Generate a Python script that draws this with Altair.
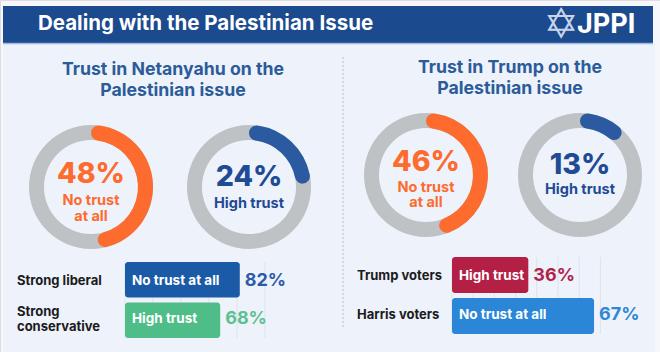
import altair as alt
import pandas as pd

# ---------------- data ----------------
donut_values = [48, 24, 46, 13]
donut_labels = ["No trust\nat all", "High trust", "No trust\nat all", "High trust"]

left_groups = ["Strong liberal", "Strong\nconservative"]
left_values = [82, 68]
left_bar_labels = ["No trust at all", "High trust"]
left_grid = [0, 20, 40, 60, 80, 100]

right_groups = ["Trump voters", "Harris voters"]
right_values = [36, 67]
right_bar_labels = ["High trust", "No trust at all"]
right_grid = [0, 10, 20, 30, 40, 50, 60, 70]

title = "Dealing with the Palestinian Issue"
left_title = "Trust in Netanyahu on the\nPalestinian issue"
right_title = "Trust in Trump on the\nPalestinian issue"

FONT = "Inter"
ORANGE = "#fd6c2e"
BLUE_ARC = "#2c5aa0"
BLUE_TXT = "#1f4a94"
GRAY = "#bec2c5"
HEADER = "#1c4a8e"
SEC = "#2b5c99"

one = pd.DataFrame({"a": [0]})
layers = []

# background card + header
layers.append(alt.Chart(one).mark_rect(color="#eef2fb").encode(
    x=alt.value(3), x2=alt.value(655), y=alt.value(43), y2=alt.value(352)))
layers.append(alt.Chart(one).mark_rect(color=HEADER).encode(
    x=alt.value(3), x2=alt.value(653), y=alt.value(6), y2=alt.value(43)))
layers.append(alt.Chart(one).mark_rule(color="#9fb7dc", strokeWidth=1.5).encode(
    x=alt.value(3), x2=alt.value(653), y=alt.value(43.5)))
layers.append(alt.Chart(one).mark_text(text=title, font=FONT, fontWeight="bold", fontSize=20.5,
                                       color="white", align="left", baseline="middle").encode(
    x=alt.value(38), y=alt.value(24)))
layers.append(alt.Chart(one).mark_text(text="\u2721", font="DejaVu Sans", fontSize=42,
                                       color="#c9d4e8", align="center", baseline="middle").encode(
    x=alt.value(561), y=alt.value(25)))
layers.append(alt.Chart(one).mark_text(text="JPPI", font=FONT, fontWeight="bold", fontSize=27,
                                       color="white", align="left", baseline="middle").encode(
    x=alt.value(577), y=alt.value(25)))

# section titles (first-line centre positions)
for t, cx, cy in [(left_title, 173, 70), (right_title, 510, 68)]:
    layers.append(alt.Chart(one).mark_text(text=t, lineBreak="\n", lineHeight=21, font=FONT,
                                           fontWeight="bold", fontSize=17.7, color=SEC,
                                           align="center", baseline="middle").encode(
        x=alt.value(cx), y=alt.value(cy)))

# divider
layers.append(alt.Chart(one).mark_rule(color="#b9bcc2", strokeDash=[2, 2], strokeWidth=1).encode(
    x=alt.value(343), y=alt.value(57), y2=alt.value(328)))

# donuts
theta_scale = alt.Scale(domain=[0, 100], range=[0, 6.283185])
donut_pos = [(91, 187), (249, 187), (426, 175), (580, 175)]
donut_pct_dy = [-13, -10, -13.5, -10]
donut_lab_dy = [14, 17, 12.5, 15]
donut_arc_col = [ORANGE, BLUE_ARC, ORANGE, BLUE_ARC]
donut_txt_col = [ORANGE, BLUE_TXT, ORANGE, BLUE_TXT]
for i, (cx, cy) in enumerate(donut_pos):
    d = pd.DataFrame({"v": [donut_values[i]], "lab": [donut_labels[i]]})
    layers.append(alt.Chart(one).mark_arc(theta=0, theta2=6.283185, radius=62, radius2=47,
                                          color=GRAY).encode(x=alt.value(cx), y=alt.value(cy)))
    layers.append(alt.Chart(d).mark_arc(radius=62, radius2=47, cornerRadius=7.5,
                                        color=donut_arc_col[i]).encode(
        theta=alt.Theta("v:Q", scale=theta_scale, stack=True),
        x=alt.value(cx), y=alt.value(cy)))
    layers.append(alt.Chart(d).transform_calculate(p="datum.v + '%'").mark_text(
        font=FONT, fontWeight=800, fontSize=28.5, color=donut_txt_col[i],
        align="center", baseline="middle").encode(
        text="p:N", x=alt.value(cx), y=alt.value(cy + donut_pct_dy[i])))
    layers.append(alt.Chart(d).mark_text(
        font=FONT, fontWeight="bold", fontSize=14.5, lineBreak="\n", lineHeight=15.5,
        color=donut_txt_col[i], align="center", baseline="middle").encode(
        text="lab:N", x=alt.value(cx), y=alt.value(cy + donut_lab_dy[i])))


def bar_block(groups, values, labels, grid, colors, valcolors, xr, yr, label_x):
    df = pd.DataFrame({"g": groups, "v": values, "lab": labels,
                       "c": colors, "vc": valcolors})
    xs = alt.Scale(domain=[0, 100], range=xr)
    ys = alt.Scale(domain=groups, range=yr, paddingInner=0.125, paddingOuter=0)
    out = []
    gd = pd.DataFrame({"t": grid})
    out.append(alt.Chart(gd).mark_rule(color="#dde2ec", strokeWidth=1).encode(
        x=alt.X("t:Q", scale=xs, axis=None), y=alt.value(yr[0]), y2=alt.value(yr[1])))
    out.append(alt.Chart(df).mark_bar(cornerRadius=3).encode(
        x=alt.X("v:Q", scale=xs, axis=None), x2=alt.X2(datum=0),
        y=alt.Y("g:N", scale=ys, axis=None),
        color=alt.Color("c:N", scale=None)))
    out.append(alt.Chart(df).transform_calculate(z="0").mark_text(
        font=FONT, fontWeight="bold", fontSize=13.5, color="white", align="left",
        baseline="middle", dx=7).encode(
        x=alt.X("z:Q", scale=xs, axis=None), y=alt.Y("g:N", scale=ys, axis=None),
        text="lab:N"))
    out.append(alt.Chart(df).transform_calculate(p="datum.v + '%'").mark_text(
        font=FONT, fontWeight="bold", fontSize=18, align="left", baseline="middle", dx=5).encode(
        x=alt.X("v:Q", scale=xs, axis=None), y=alt.Y("g:N", scale=ys, axis=None),
        text="p:N", color=alt.Color("vc:N", scale=None)))
    # row labels: single-line and two-line handled separately so each block is centred
    out.append(alt.Chart(df).transform_filter("indexof(datum.g, '\\n') < 0").mark_text(
        font=FONT, fontWeight="bold", fontSize=13, color="#1b1b1b", align="left",
        baseline="middle").encode(
        x=alt.value(label_x), y=alt.Y("g:N", scale=ys, axis=None), text="g:N"))
    out.append(alt.Chart(df).transform_filter("indexof(datum.g, '\\n') >= 0").mark_text(
        font=FONT, fontWeight="bold", fontSize=13, lineBreak="\n", lineHeight=15,
        color="#1b1b1b", align="left", baseline="middle", dy=-7.5).encode(
        x=alt.value(label_x), y=alt.Y("g:N", scale=ys, axis=None), text="g:N"))
    return out


layers += bar_block(left_groups, left_values, left_bar_labels, left_grid,
                    ["#1b5aa7", "#4fbd87"], ["#2a5aa8", "#5cc08f"],
                    [125, 265], [262, 338], 17)
layers += bar_block(right_groups, right_values, right_bar_labels, right_grid,
                    ["#b41f46", "#2b86d8"], ["#b2234a", "#2d86d6"],
                    [452, 664], [257, 334], 357)

chart = alt.layer(*layers).resolve_scale(
    x="independent", y="independent", theta="independent", color="independent"
).properties(width=660, height=352, padding=0, autosize="none").configure_view(
    stroke=None).configure(background="#f6f7fa")

chart.save("out.html", embed_options={"renderer": "svg", "actions": False})
